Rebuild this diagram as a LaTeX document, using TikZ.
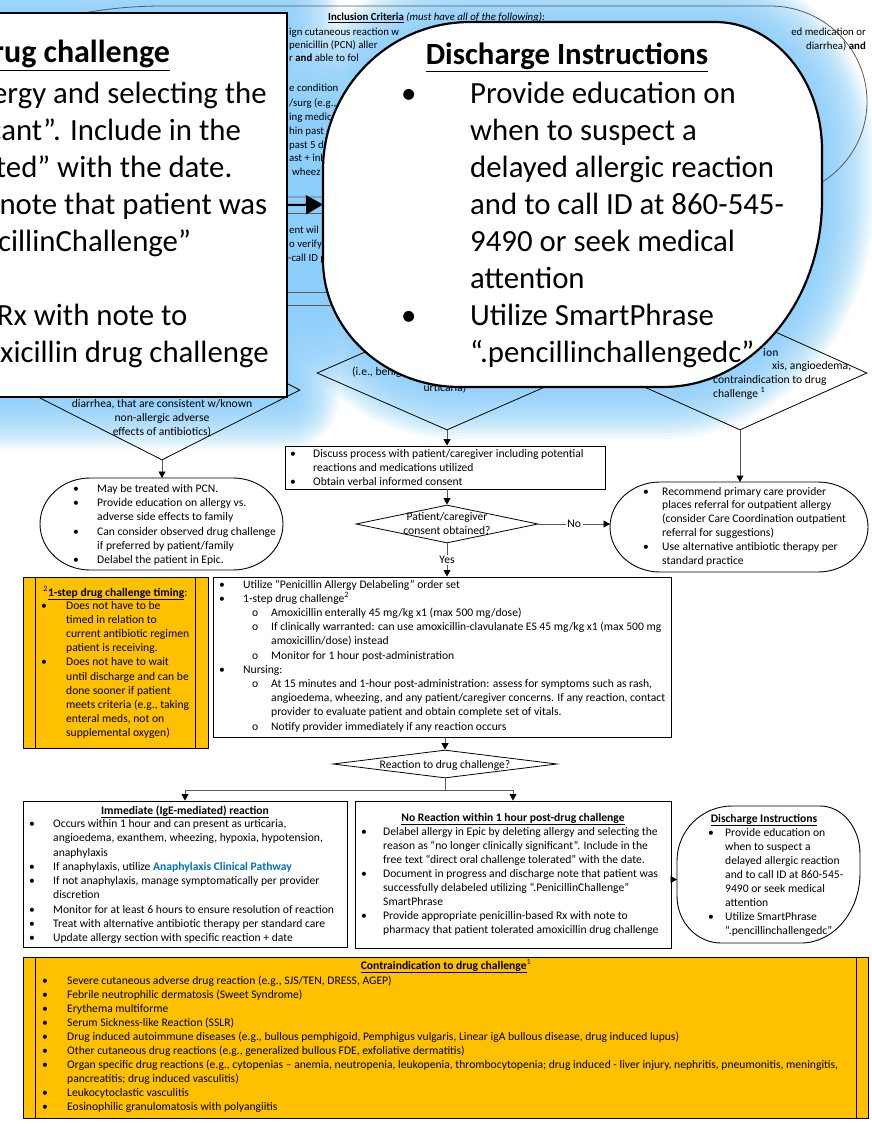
\documentclass[tikz,border=0pt]{standalone}
\usepackage{fontspec}
\setmainfont{Carlito}
\usepackage{array}
\usetikzlibrary{arrows.meta,shapes.geometric}
\definecolor{glowc}{RGB}{135,206,250}
\definecolor{orng}{RGB}{255,192,0}
\definecolor{linkblue}{RGB}{0,112,192}
\definecolor{navyc}{RGB}{31,56,100}
\definecolor{conc}{RGB}{90,90,90}
\newcommand{\fs}[1]{\fontsize{11.6}{#1}\selectfont}
\newcommand{\bigf}{\fontsize{30.8}{37}\selectfont}
\newcommand{\smf}{\fontsize{10.8}{13}\selectfont}
\newcommand{\B}{\textbullet}
\newcommand{\tb}[1]{\textbf{\underline{#1}}}
\def\bigrectpath{(-30,13) rectangle (287,397)}
\def\bigdispath{(470,22) -- (715,22) arc[start angle=90,end angle=0,x radius=107pt,y radius=128pt] -- (822,200) arc[start angle=0,end angle=-90,x radius=159pt,y radius=187pt] -- (460,387) arc[start angle=-90,end angle=-180,x radius=137pt,y radius=127pt] -- (323,170) arc[start angle=180,end angle=90,x radius=147pt,y radius=148pt] -- cycle}
\begin{document}
\begin{tikzpicture}[x=1pt,y=-1pt,
  txt/.style={inner sep=0pt, anchor=base west},
  ctxt/.style={inner sep=0pt, anchor=base},
  bx/.style={draw=black, line width=0.9pt, inner sep=0pt},
  area/.style={inner sep=0pt, outer sep=0pt},
  dia/.style={diamond, draw=black, line width=0.8pt, inner sep=0pt},
  conn/.style={draw=conc, line width=0.8pt},
  arr/.style={-{Triangle[length=6.5pt,width=7pt,color=black]}},
  callout/.style={draw=black, line width=2.2pt, fill=white},
  lbl/.style={fill=white, inner sep=1.5pt, font=\fs{14}}
]
\useasboundingbox (0,0) rectangle (871,1124);
\fill[white] (0,0) rectangle (871,1124);

% ---------- soft glow around the enlarged call-outs ----------
\foreach \w in {104,98,...,8}{
  \draw[glowc, line width=\w pt, opacity=0.1, line join=round] \bigrectpath;
  \draw[glowc, line width=\w pt, opacity=0.1, line join=round] \bigdispath;
}

% ---------- background: top of the flow chart ----------
\draw[conc, line width=0.8pt] (163,6) -- (770,6) arc[start angle=90,end angle=-90,x radius=97pt,y radius=95.5pt] -- (163,197) arc[start angle=-90,end angle=-270,x radius=210pt,y radius=95.5pt] -- cycle;
\node[txt, font=\smf] (inctitle) at (328,21) {\tb{Inclusion Criteria} \textit{(must have \underline{all} of the following):}};
\node[txt, font=\smf] (f1) at (289,35.5) {ign cutaneous reaction w};
\node[txt, font=\smf] (f2) at (289,48.5) {penicillin (PCN) aller};
\node[txt, font=\smf] (f3) at (289,61.5) {r \textbf{and} able to fol};
\node[txt, font=\smf] (f4) at (289,91.5) {e condition};
\node[txt, font=\smf] (f5) at (289,106) {/surg (e.g.,};
\node[txt, font=\smf] (f6) at (289,120.5) {ing medica};
\node[txt, font=\smf] (f7) at (289,134.5) {hin past 4};
\node[txt, font=\smf] (f8) at (289,148.5) {past 5 da};
\node[txt, font=\smf] (f9) at (289,161.5) {ast + inh};
\node[txt, font=\smf] (f10) at (292,175.5) {wheez};
\node[txt, font=\smf] (f11) at (289,233.5) {ent wil};
\node[txt, font=\smf] (f12) at (289,247.5) {o verify};
\node[txt, font=\smf] (f13) at (288,261.5) {-call ID p};
\node[inner sep=0pt, anchor=base east, font=\smf] (f14) at (866,36) {ed medication or};
\node[inner sep=0pt, anchor=base east, font=\smf] (f15) at (866,49) {diarrhea) \textbf{and}};
\draw[conc, line width=0.8pt] (280,213) -- (360,213);
\draw[conc, line width=0.8pt] (280,292) -- (360,292);
\draw[conc, line width=0.8pt] (280,305) -- (360,305);

% diamonds of the first decision
\node[dia, minimum width=276pt, minimum height=140pt] (ldia) at (162,390) {};
\node[dia, minimum width=260pt, minimum height=114pt] (mdia) at (447,373) {};
\node[dia, minimum width=254pt, minimum height=114pt] (rdia) at (740,373) {};
\node[ctxt, font=\fs{14}] (ld1) at (162,407.5) {diarrhea, that are consistent w/known};
\node[ctxt, font=\fs{14}] (ld2) at (162,421.5) {non-allergic adverse};
\node[ctxt, font=\fs{14}] (ld3) at (162,435.5) {effects of antibiotics)};
\node[txt, font=\fs{14}] (md1) at (352,375) {(i.e., benig};
\node[ctxt, font=\fs{14}] (md2) at (445,391) {urticaria)};
\node[txt, font=\fs{14}, text=navyc] (rd0) at (763,356) {\textbf{ion}};
\node[txt, font=\fs{14}] (rd1) at (772,369) {xis, angioedema,};
\node[txt, font=\fs{14}] (rd2) at (713,383) {contraindication to drug};
\node[txt, font=\fs{14}] (rd3) at (713,397) {challenge \textsuperscript{1}};

% ---------- lower flow chart ----------
\node[bx, minimum width=320pt, minimum height=43pt] (disc) at (445,467.5) {};
\node[txt, font=\fs{14}] (disct) at (290,457.5) {\begin{tabular}[t]{@{}p{23pt}@{}l@{}}
\B & Discuss process with patient/caregiver including potential\\
 & reactions and medications utilized\\
\B & Obtain verbal informed consent
\end{tabular}};

\node[dia, minimum width=182pt, minimum height=38pt] (cons) at (447,524) {};
\node[ctxt, font=\fs{14}] (cons1) at (447,520) {Patient/caregiver};
\node[ctxt, font=\fs{14}] (cons2) at (447,534) {consent obtained?};

% left terminal
\node[area, minimum width=243pt, minimum height=92pt] (lterm) at (161.5,524) {};
\draw[black, line width=0.9pt] (90,478) -- (233,478) arc[start angle=90,end angle=-90,x radius=50pt,y radius=46pt] -- (90,570) arc[start angle=-90,end angle=-270,x radius=50pt,y radius=46pt] -- cycle;
\node[txt, font=\fs{14.2}] (ltermt) at (73,492.5) {\begin{tabular}[t]{@{}p{24pt}@{}l@{}}
\B & May be treated with PCN.\\
\B & Provide education on allergy vs.\\
 & adverse side effects to family\\
\B & Can consider observed drug challenge\\
 & if preferred by patient/family\\
\B & Delabel the patient in Epic.
\end{tabular}};

% right terminal
\node[area, minimum width=258pt, minimum height=90pt] (rterm) at (739,527) {};
\draw[black, line width=0.9pt] (660,482) -- (818,482) arc[start angle=90,end angle=-90,x radius=50pt,y radius=45pt] -- (660,572) arc[start angle=-90,end angle=-270,x radius=50pt,y radius=45pt] -- cycle;
\node[txt, font=\fs{13.8}] (rtermt) at (643,495) {\begin{tabular}[t]{@{}p{19pt}@{}l@{}}
\B & Recommend primary care provider\\
 & places referral for outpatient allergy\\
 & (consider Care Coordination outpatient\\
 & referral for suggestions)\\
\B & Use alternative antibiotic therapy per\\
 & standard practice
\end{tabular}};

% timing box
\node[bx, fill=orng, minimum width=185pt, minimum height=171pt] (timing) at (115.5,662.5) {};
\draw[black, line width=0.9pt] ([xshift=13pt]timing.north west) -- ([xshift=13pt]timing.south west);
\draw[black, line width=0.9pt] ([xshift=-13pt]timing.north east) -- ([xshift=-13pt]timing.south east);
\node[ctxt, font=\fs{14}] (timtitle) at (115.5,596) {\textsuperscript{2}\tb{1-step drug challenge timing}:};
\node[txt, font=\fs{14.1}] (timt) at (41,609.5) {\begin{tabular}[t]{@{}p{25pt}@{}l@{}}
\B & Does not have to be\\
 & timed in relation to\\
 & current antibiotic regimen\\
 & patient is receiving.\\
\B & Does not have to wait\\
 & until discharge and can be\\
 & done sooner if patient\\
 & meets criteria (e.g., taking\\
 & enteral meds, not on\\
 & supplemental oxygen)
\end{tabular}};

% drug challenge box
\node[bx, minimum width=458pt, minimum height=160pt] (drug) at (442,657) {};
\node[txt, font=\fs{14.2}] (drugt) at (219,588) {\begin{tabular}[t]{@{}p{24pt}@{}p{28pt}@{}l@{}}
\B & \multicolumn{2}{@{}l@{}}{Utilize “Penicillin Allergy Delabeling” order set}\\
\B & \multicolumn{2}{@{}l@{}}{1-step drug challenge\textsuperscript{2}}\\
 & \hspace*{9pt}o & Amoxicillin enterally 45 mg/kg x1 (max 500 mg/dose)\\
 & \hspace*{9pt}o & If clinically warranted: can use amoxicillin-clavulanate ES 45 mg/kg x1 (max 500 mg\\
 & & amoxicillin/dose) instead\\
 & \hspace*{9pt}o & Monitor for 1 hour post-administration\\
\B & \multicolumn{2}{@{}l@{}}{Nursing:}\\
 & \hspace*{9pt}o & At 15 minutes and 1-hour post-administration: assess for symptoms such as rash,\\
 & & angioedema, wheezing, and any patient/caregiver concerns. If any reaction, contact\\
 & & provider to evaluate patient and obtain complete set of vitals.\\
 & \hspace*{9pt}o & Notify provider immediately if any reaction occurs
\end{tabular}};

% reaction decision
\node[dia, minimum width=224pt, minimum height=28pt] (rdm) at (445,764) {};
\node[ctxt, font=\fs{14}] (rdmt) at (445,768) {Reaction to drug challenge?};

% immediate reaction box
\node[bx, minimum width=324pt, minimum height=146pt] (imm) at (185,874) {};
\node[ctxt, font=\fs{14}] (immtitle) at (185,814) {\tb{Immediate (IgE-mediated) reaction}};
\node[txt, font=\fs{14.25}] (immt) at (29,827.5) {\begin{tabular}[t]{@{}p{24pt}@{}l@{}}
\B & Occurs within 1 hour and can present as urticaria,\\
 & angioedema, exanthem, wheezing, hypoxia, hypotension,\\
 & anaphylaxis\\
\B & If anaphylaxis, utilize \textcolor{linkblue}{\textbf{Anaphylaxis Clinical Pathway}}\\
\B & If not anaphylaxis, manage symptomatically per provider\\
 & discretion\\
\B & Monitor for at least 6 hours to ensure resolution of reaction\\
\B & Treat with alternative antibiotic therapy per standard care\\
\B & Update allergy section with specific reaction + date
\end{tabular}};

% no reaction box
\node[bx, minimum width=316pt, minimum height=147pt] (nore) at (513,874.5) {};
\node[ctxt, font=\fs{14}] (noretitle) at (513,821) {\tb{No Reaction within 1 hour post-drug challenge}};
\node[txt, font=\fs{14.14}] (noret) at (361,835) {\begin{tabular}[t]{@{}p{22pt}@{}l@{}}
\B & Delabel allergy in Epic by deleting allergy and selecting the\\
 & reason as “no longer clinically significant”. Include in the\\
 & free text “direct oral challenge tolerated” with the date.\\
\B & Document in progress and discharge note that patient was\\
 & successfully delabeled utilizing “.PenicillinChallenge”\\
 & SmartPhrase\\
\B & Provide appropriate penicillin-based Rx with note to\\
 & pharmacy that patient tolerated amoxicillin drug challenge
\end{tabular}};

% small discharge instructions
\node[area, minimum width=183pt, minimum height=137pt] (sdis) at (768.5,874.5) {};
\draw[black, line width=0.9pt] (732,806) -- (820,806) arc[start angle=90,end angle=0,x radius=40pt,y radius=48pt] -- (860,873) arc[start angle=0,end angle=-90,x radius=59pt,y radius=70pt] -- (721,943) arc[start angle=-90,end angle=-180,x radius=44pt,y radius=47pt] -- (677,861) arc[start angle=180,end angle=90,x radius=55pt,y radius=55pt] -- cycle;
\node[ctxt, font=\fs{14}] (sdistitle) at (764,822) {\tb{Discharge Instructions}};
\node[txt, font=\fs{14}] (sdist) at (708,836) {\begin{tabular}[t]{@{}p{17pt}@{}l@{}}
\B & Provide education on\\
 & when to suspect a\\
 & delayed allergic reaction\\
 & and to call ID at 860-545-\\
 & 9490 or seek medical\\
 & attention\\
\B & Utilize SmartPhrase\\
 & “.pencillinchallengedc”
\end{tabular}};

% contraindication box
\node[bx, fill=orng, minimum width=845pt, minimum height=161pt] (contra) at (445.5,1037.5) {};
\draw[black, line width=0.9pt] ([xshift=13pt]contra.north west) -- ([xshift=13pt]contra.south west);
\draw[black, line width=0.9pt] ([xshift=-12pt]contra.north east) -- ([xshift=-12pt]contra.south east);
\node[ctxt, font=\fs{14}] (contratitle) at (446,969) {\tb{Contraindication to drug challenge}\textsuperscript{1}};
\node[txt, font=\fs{14.1}] (contrat) at (42,984) {\begin{tabular}[t]{@{}p{25pt}@{}l@{}}
\B & Severe cutaneous adverse drug reaction (e.g., SJS/TEN, DRESS, AGEP)\\
\B & Febrile neutrophilic dermatosis (Sweet Syndrome)\\
\B & Erythema multiforme\\
\B & Serum Sickness-like Reaction (SSLR)\\
\B & Drug induced autoimmune diseases (e.g., bullous pemphigoid, Pemphigus vulgaris, Linear igA bullous disease, drug induced lupus)\\
\B & Other cutaneous drug reactions (e.g., generalized bullous FDE, exfoliative dermatitis)\\
\B & Organ specific drug reactions (e.g., cytopenias – anemia, neutropenia, leukopenia, thrombocytopenia; drug induced - liver injury, nephritis, pneumonitis, meningitis,\\
 & pancreatitis; drug induced vasculitis)\\
\B & Leukocytoclastic vasculitis\\
\B & Eosinophilic granulomatosis with polyangiitis
\end{tabular}};

% connectors
\draw[conn,arr] (ldia.south) -- (ldia.south |- lterm.north);
\draw[conn,arr] (mdia.south) -- (mdia.south |- disc.north);
\draw[conn,arr] (rdia.south) -- (rdia.south |- rterm.north);
\draw[conn,arr] (disc.south -| cons.north) -- (cons.north);
\draw[conn,arr] (cons.east) -- node[lbl] (nolbl) {No} (cons.east -| rterm.west);
\draw[conn,arr] (cons.south) -- node[lbl] (yeslbl) {Yes} (cons.south |- drug.north);
\draw[conn,arr] (drug.south -| rdm.north) -- (rdm.north);
\draw[conn] (rdm.south) -- ++(0,12) coordinate (br);
\draw[conn,arr] (br) -| (imm.north);
\draw[conn,arr] (br) -| (nore.north);
\draw[conn,arr] ([yshift=-5pt]nore.east) -- ([yshift=-5pt]nore.east -| sdis.west);

% ---------- enlarged call-outs ----------
\node[area, minimum width=317pt, minimum height=384pt] (bigrect) at (128.5,205) {};
\node[area, minimum width=499pt, minimum height=365pt] (bigdis) at (572.5,204.5) {};
\draw[callout] \bigrectpath;
\node[inner sep=0pt, anchor=base east, font=\fontsize{32}{37}\selectfont] (bigtitle) at (170,63) {\tb{No Reaction within 1 hour post-drug challenge}};
\node[inner sep=0pt, anchor=base east, font=\bigf] (bigtext) at (269,103) {\begin{tabular}[t]{@{}l@{}}
Delabel allergy in Epic by deleting allergy and selecting the\\
reason as “no longer clinically significant”. Include in the\\
free text “direct oral challenge tolerated” with the date.\\
Document in progress and discharge note that patient was\\
successfully delabeled utilizing “.PenicillinChallenge”\\
SmartPhrase\\
Provide appropriate penicillin-based Rx with note to\\
pharmacy that patient tolerated amoxicillin drug challenge
\end{tabular}};
\draw[callout] \bigdispath;
\draw[line width=2pt, -{Triangle[length=17pt,width=19pt]}] (bigrect.east) -- (bigdis.west);
\node[ctxt, font=\bigf] (bigdistitle) at (567,65) {\tb{Discharge Instructions}};
\node[txt, font=\bigf] (bigdistext) at (401,103) {\begin{tabular}[t]{@{}p{69pt}@{}l@{}}
\B & Provide education on\\
 & when to suspect a\\
 & delayed allergic reaction\\
 & and to call ID at 860-545-\\
 & 9490 or seek medical\\
 & attention\\
\B & Utilize SmartPhrase\\
 & “.pencillinchallengedc”
\end{tabular}};
\end{tikzpicture}
\end{document}
